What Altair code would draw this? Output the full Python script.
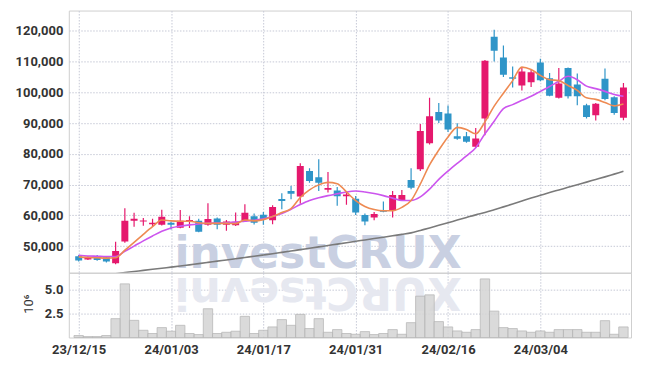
import json
import altair as alt
import pandas as pd

# ---------------- data ----------------
dates = [
    "23/12/15", "23/12/18", "23/12/19", "23/12/20", "23/12/21", "23/12/22", "23/12/26", "23/12/27", "23/12/28",
    "24/01/02", "24/01/03", "24/01/04", "24/01/05", "24/01/08", "24/01/09", "24/01/10", "24/01/11", "24/01/12",
    "24/01/15", "24/01/16", "24/01/17", "24/01/18", "24/01/19", "24/01/22", "24/01/23", "24/01/24", "24/01/25",
    "24/01/26", "24/01/29", "24/01/30", "24/01/31", "24/02/01", "24/02/02", "24/02/05", "24/02/06", "24/02/07",
    "24/02/08", "24/02/13", "24/02/14", "24/02/15", "24/02/16", "24/02/19", "24/02/20", "24/02/21", "24/02/22",
    "24/02/23", "24/02/26", "24/02/27", "24/02/28", "24/02/29", "24/03/04", "24/03/05", "24/03/06", "24/03/07",
    "24/03/08", "24/03/11", "24/03/12", "24/03/13", "24/03/14", "24/03/15",
]
opens = [46700, 45650, 46700, 46400, 44400, 51500, 58200, 58000, 57100, 56900,
         57600, 56000, 58000, 58200, 56900, 59000, 56900, 56800, 58200, 59700,
         60200, 58400, 65300, 67900, 66100, 74400, 72400, 68300, 68100, 66200,
         65400, 60100, 59300, 61700, 61600, 65000, 71500, 75000, 83400, 93600,
         93100, 85700, 85700, 82300, 91500, 118100, 111300, 104900, 102200, 103300,
         109700, 104600, 98200, 107900, 102500, 95800, 92500, 104400, 98400, 91700]
highs = [47100, 46700, 47100, 46800, 51400, 62300, 60800, 59100, 58900, 61800,
         57900, 61700, 59700, 58900, 63900, 59300, 58500, 60900, 63600, 60600,
         61100, 63300, 67200, 69500, 76900, 75300, 78200, 74100, 69200, 67800,
         66300, 60600, 61100, 64500, 67900, 68200, 75300, 89700, 98200, 96500,
         95700, 89900, 87100, 88400, 110500, 120300, 115200, 108400, 108100, 107400,
         110900, 106300, 107900, 108100, 106100, 96300, 96500, 107700, 98700, 103000]
lows = [45000, 45500, 45200, 44700, 44100, 51100, 56300, 56600, 56300, 56700,
        55400, 55800, 55900, 54500, 56600, 55500, 55000, 56500, 58000, 57000,
        56900, 57100, 62000, 65200, 63800, 70600, 67900, 67400, 63100, 63400,
        60100, 56800, 58400, 61000, 59300, 64700, 68500, 74400, 83000, 90000,
        87100, 84600, 83600, 81900, 86000, 110000, 105000, 101600, 100600, 101700,
        103600, 98700, 98000, 98000, 95800, 91500, 90800, 97400, 92700, 90900]
closes = [45300, 46500, 45500, 45000, 48400, 58200, 58900, 58300, 57600, 59500,
          56900, 58200, 58500, 54700, 58800, 56900, 58000, 57900, 60800, 57600,
          58800, 62700, 64700, 67000, 76000, 71200, 70600, 68900, 66200, 66800,
          60900, 58000, 60400, 61200, 66600, 66600, 69000, 87400, 92200, 90800,
          87900, 84900, 83900, 85000, 110300, 113500, 105700, 104400, 106800, 106500,
          103900, 98900, 102900, 98700, 98700, 92000, 96300, 97800, 93300, 101600]
ma5 = [46500, 46300, 46200, 46100, 46200, 48700, 51200, 53800, 56300, 58500,
       58200, 58100, 58100, 57600, 57400, 57400, 57400, 57300, 58500, 58200,
       58600, 59600, 60900, 62200, 65800, 68300, 69900, 70700, 70300, 67600,
       64800, 62900, 61900, 61500, 61500, 62600, 64800, 70200, 76400, 81200,
       85500, 88600, 87900, 86500, 90400, 95500, 99700, 103800, 108200, 107400,
       105500, 104100, 103800, 102200, 100600, 98200, 97700, 96700, 95600, 96200]
ma20 = [47000, 46800, 46700, 46600, 46600, 48300, 50000, 51700, 53300, 54800,
        55900, 56500, 56900, 57200, 57400, 57500, 57600, 57800, 58100, 58400,
        58900, 59600, 60600, 62000, 63500, 64800, 65700, 66400, 67000, 67600,
        67900, 67600, 67100, 66400, 65600, 64800, 64800, 66000, 68500, 71700,
        74400, 76900, 79300, 82000, 86500, 90600, 94700, 96000, 97400, 98700,
        100300, 101900, 103600, 105200, 104100, 102000, 101200, 100300, 99300, 98700]
ma_long = [39600, 40000, 40300, 40700, 41000, 41400, 41750, 42100, 42450, 42800,
           43150, 43500, 43900, 44300, 44700, 45100, 45500, 45900, 46300, 46700,
           47100, 47500, 47950, 48400, 48850, 49300, 49750, 50200, 50650, 51100,
           51550, 52000, 52450, 52900, 53350, 53800, 54300, 55100, 55900, 56750,
           57600, 58450, 59300, 60150, 60900, 61800, 62750, 63700, 64650, 65600,
           66500, 67400, 68250, 69100, 69950, 70800, 71650, 72500, 73400, 74300]
volume_m = [0.21, 0.10, 0.10, 0.21, 1.98, 5.63, 1.80, 0.76, 0.42, 1.04,
            0.66, 1.28, 0.42, 0.31, 3.02, 0.42, 0.55, 0.66, 2.22, 0.42,
            0.76, 1.11, 1.88, 1.28, 2.43, 0.94, 1.98, 0.55, 0.83, 0.42,
            0.34, 0.62, 0.31, 0.42, 0.83, 0.34, 1.56, 4.34, 4.48, 1.67,
            1.11, 0.69, 0.55, 0.83, 6.15, 2.77, 1.04, 0.94, 0.69, 0.55,
            0.69, 0.55, 0.83, 0.83, 0.83, 0.55, 0.55, 1.77, 0.34, 1.11]
tick_index = [0, 10, 20, 30, 40, 50]
price_ticks = [50000, 60000, 70000, 80000, 90000, 100000, 110000, 120000]
volume_ticks = [2.5, 5.0]
watermark = "investCRUX"

df = pd.DataFrame({
    "idx": list(range(len(dates))), "date": dates,
    "open": opens, "high": highs, "low": lows, "close": closes,
    "ma5": ma5, "ma20": ma20, "ma_long": ma_long, "vol": volume_m,
})

# ---------------- styling ----------------
UP = "#e5186d"
DOWN = "#2f95c8"
FONT = "Roboto, Liberation Sans, sans-serif"
GRID = "#c6c9d6"
X_DOMAIN = [-0.53, 59.28]
W = 564
label_expr = json.dumps(dates) + "[datum.value]"

base = alt.Chart(df)
xscale = alt.Scale(domain=X_DOMAIN, nice=False, zero=False)
x_price = alt.X("idx:Q", scale=xscale,
                axis=alt.Axis(values=tick_index, labels=False, ticks=False, domain=False,
                              title=None, grid=True, gridDash=[1.5, 1.5], gridColor=GRID))
yscale = alt.Scale(domain=[41340, 126580], nice=False, zero=False)
y_axis = alt.Axis(values=price_ticks, format=",d", title=None, ticks=False, domain=False,
                  grid=True, gridDash=[1.5, 1.5], gridColor=GRID, labelPadding=6,
                  minExtent=52, maxExtent=52, labelOverlap=False)


def py(field):
    return alt.Y(f"{field}:Q", scale=yscale, axis=y_axis)


color = alt.condition("datum.close >= datum.open", alt.value(UP), alt.value(DOWN))

wm = base.transform_filter("datum.idx == 0").mark_text(
    text=watermark, font="DejaVu Sans", fontWeight="bold", fontSize=44,
    color="#c9d0e2", align="center", baseline="alphabetic"
).encode(x=alt.value(250), y=alt.value(258))

wick = base.mark_rule(strokeWidth=1.2, clip=True).encode(
    x=x_price, y=py("low"), y2="high:Q", color=color,
)
body = base.mark_bar(size=7, clip=True).encode(
    x=x_price, y=py("open"), y2="close:Q", color=color,
)
line_long = base.mark_line(color="#7a7a7a", strokeWidth=1.6, clip=True, interpolate="monotone").encode(
    x=x_price, y=py("ma_long"))
line20 = base.mark_line(color="#cc55ee", strokeWidth=1.6, clip=True, interpolate="monotone").encode(
    x=x_price, y=py("ma20"))
line5 = base.mark_line(color="#ee8a52", strokeWidth=1.6, clip=True, interpolate="monotone").encode(
    x=x_price, y=py("ma5"))

price = alt.layer(wm, wick, body, line_long, line20, line5).properties(width=W, height=263)

x_vol = alt.X("idx:Q", scale=xscale,
              axis=alt.Axis(values=tick_index, labelExpr=label_expr, ticks=False, domain=False,
                            title=None, grid=True, gridDash=[1.5, 1.5], gridColor=GRID,
                            labelPadding=6))
reflect = base.transform_filter("datum.idx == 0").mark_text(
    text=watermark[::-1], font="DejaVu Sans", fontWeight="bold", fontSize=44,
    color="#e6e8f0", align="center", baseline="alphabetic", angle=180
).encode(x=alt.value(250), y=alt.value(5))
vbars = base.mark_bar(orient="vertical", size=9.4, fill="#d6d6d6", stroke="#b2b2b2",
                      strokeWidth=0.8, opacity=0.9).encode(
    x=x_vol,
    y=alt.Y("vol:Q", scale=alt.Scale(domain=[0, 6.8], nice=False),
            axis=alt.Axis(values=volume_ticks, format=".1f", title="10⁶", ticks=False,
                          domain=False, grid=True, gridDash=[1.5, 1.5], gridColor=GRID,
                          labelPadding=6, minExtent=52, maxExtent=52,
                          titleX=-36, titleY=31, titleAngle=-90, titleAlign="center",
                          titleBaseline="alphabetic", titleFont=FONT, titleFontSize=13,
                          titleFontWeight="normal", titleColor="#333")),
)
volume = alt.layer(reflect, vbars).properties(width=W, height=65)

chart = alt.vconcat(price, volume, spacing=0, bounds="flush").properties(
    padding={"left": 6, "top": 1, "right": 5, "bottom": 5}
).configure_view(stroke="#cfcfcf").configure_axis(
    labelFont=FONT, labelFontWeight="bold", labelFontSize=13, labelColor="#333333"
)

chart.save("out.html", embed_options={"renderer": "svg", "actions": False})
